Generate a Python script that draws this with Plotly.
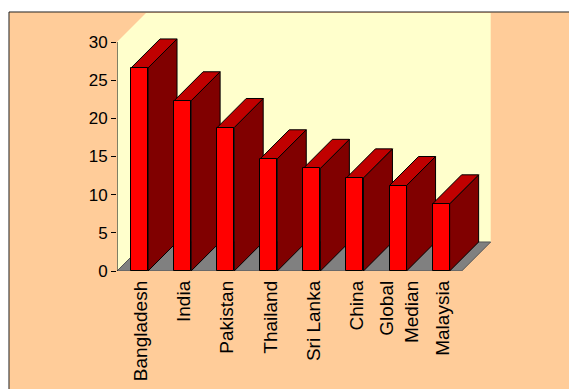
import plotly.graph_objects as go

# Chart data
countries = ["Bangladesh", "India", "Pakistan", "Thailand", "Sri Lanka",
             "China", "Global<br>Median", "Malaysia"]
values = [26.6, 22.3, 18.8, 14.7, 13.45, 12.2, 11.2, 8.8]
y_ticks = [0, 5, 10, 15, 20, 25, 30]

# 3D look: depth offset of the floor / bars in axis units
DX = 0.673        # horizontal depth (categories)
DY = 3.8          # vertical depth (value units)
Y_MAX = 30
BAR_W = 0.395
BAR_C = 0.5225

FRONT = "#FF0000"
TOP = "#C00000"
SIDE = "#800000"
WALL = "#FFFFCC"
FLOOR = "#808080"
PEACH = "#FFCC99"

n = len(countries)


def path(pts):
    return "M " + " L ".join(f"{x},{y}" for x, y in pts) + " Z"


shapes = []
# outer chart frame
shapes.append(dict(type="rect", xref="paper", yref="paper",
                   x0=-0.2888, x1=1.2246, y0=-0.4806, y1=1.0039,
                   fillcolor=PEACH, line=dict(color="#222222", width=1),
                   layer="below"))
# side wall
shapes.append(dict(type="path", xref="x", yref="y", layer="below",
                   path=path([(0, 0), (0, Y_MAX), (DX, Y_MAX + DY), (DX, DY)]),
                   fillcolor=WALL, line=dict(width=0)))
# back wall
shapes.append(dict(type="path", xref="x", yref="y", layer="below",
                   path=path([(DX, DY), (DX, Y_MAX + DY), (n + DX, Y_MAX + DY), (n + DX, DY)]),
                   fillcolor=WALL, line=dict(width=0)))
# floor
shapes.append(dict(type="path", xref="x", yref="y", layer="below",
                   path=path([(0, 0), (n, 0), (n + DX, DY), (DX, DY)]),
                   fillcolor=FLOOR, line=dict(color="#555555", width=1)))
# value axis line
shapes.append(dict(type="line", xref="x", yref="y", layer="below",
                   x0=0, x1=0, y0=0, y1=Y_MAX, line=dict(color="black", width=1)))

# side and top faces of each bar
for i, v in enumerate(values):
    x0 = i + BAR_C - BAR_W / 2
    x1 = i + BAR_C + BAR_W / 2
    shapes.append(dict(type="path", xref="x", yref="y", layer="below",
                       path=path([(x1, 0), (x1, v), (x1 + DX, v + DY), (x1 + DX, DY)]),
                       fillcolor=SIDE, line=dict(color="black", width=1)))
    shapes.append(dict(type="path", xref="x", yref="y", layer="below",
                       path=path([(x0, v), (x1, v), (x1 + DX, v + DY), (x0 + DX, v + DY)]),
                       fillcolor=TOP, line=dict(color="black", width=1)))

fig = go.Figure()
# front faces of the bars
fig.add_trace(go.Bar(
    x=[i + BAR_C for i in range(n)], y=values, width=BAR_W,
    marker=dict(color=FRONT, line=dict(color="black", width=1)),
    hoverinfo="skip", showlegend=False,
))

fig.update_layout(
    width=569, height=389,
    margin=dict(l=117, r=78, t=13, b=118),
    paper_bgcolor="white",
    plot_bgcolor="rgba(0,0,0,0)",
    shapes=shapes,
    showlegend=False,
    bargap=0,
    xaxis=dict(
        range=[0, n + DX + 0.007], showgrid=False, zeroline=False, showline=False,
        tickmode="array", tickvals=[i + 0.56 for i in range(n)], ticktext=countries,
        tickangle=-90, ticks="", ticklabelstandoff=5, automargin=False,
        tickfont=dict(family="Liberation Sans, Arial, sans-serif", size=19, color="black"),
    ),
    yaxis=dict(
        range=[0, Y_MAX + DY], showgrid=False, zeroline=False, showline=False,
        tickmode="array", tickvals=y_ticks, ticks="outside", ticklen=5,
        tickcolor="black", tickwidth=1, automargin=False,
        tickfont=dict(family="Liberation Sans, Arial, sans-serif", size=17, color="black"),
    ),
)

fig.write_html("out.html")
